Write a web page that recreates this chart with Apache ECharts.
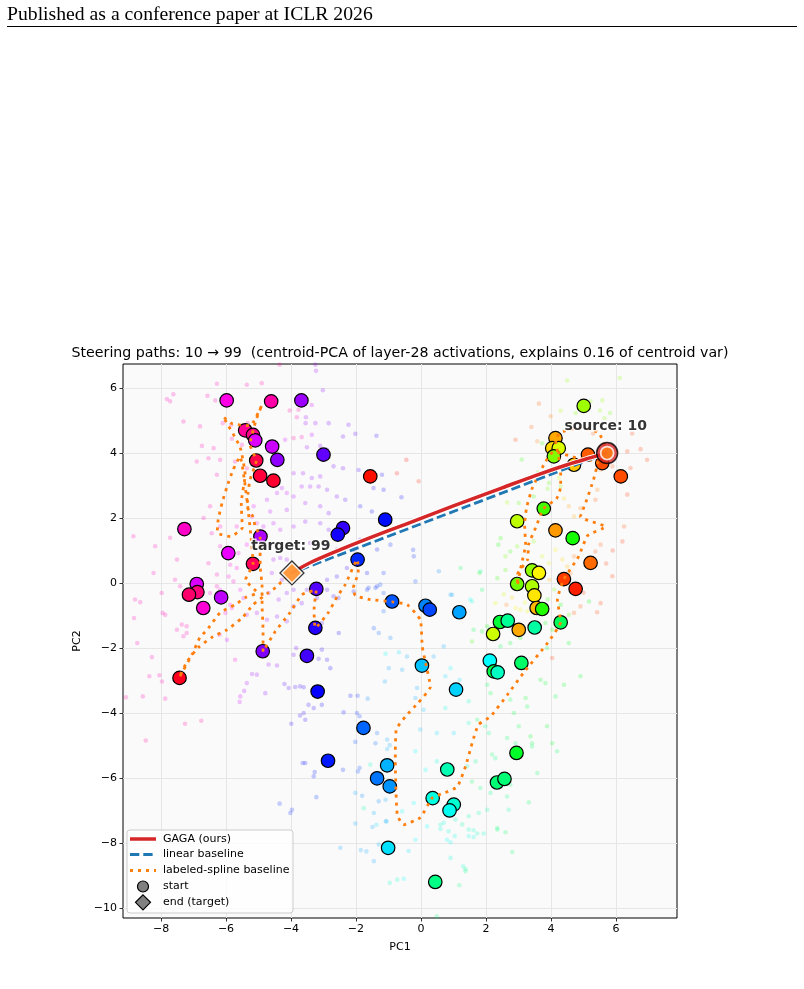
<!DOCTYPE html>
<html><head><meta charset="utf-8">
<script src="https://cdn.jsdelivr.net/npm/echarts@6/dist/echarts.min.js"></script>
<style>html,body{margin:0;padding:0;background:#fff}#c{width:804px;height:989px}</style>
</head><body><div id="c"></div>
<script>
// ---------------- data ----------------
const xTicks = [-8, -6, -4, -2, 0, 2, 4, 6];
const yTicks = [-10, -8, -6, -4, -2, 0, 2, 4, 6];
const sourcePoint = [5.73, 4.00];
const targetPoint = [-3.97, 0.31];

const gagaPath = [[5.73,4.00],[5.2,3.85],[4.5,3.64],[3.5,3.30],[2.5,2.93],[1.5,2.56],[0.5,2.18],[-0.5,1.80],[-1.5,1.42],[-2.5,1.02],[-3.4,0.63],[-3.97,0.31]];
const linearPath = [[5.73,4.00],[-3.97,0.31]];
const splinePath = [
 [5.73,4.00],[5.47,4.63],[4.85,4.78],[4.30,4.63],[4.14,4.41],[4.30,3.49],[4.30,2.96],[4.17,2.59],[3.77,2.29],[3.53,1.70],
 [3.31,1.18],[3.28,0.72],[2.97,0.26],[2.97,-0.08],[3.09,0.56],[3.22,1.18],[3.19,1.79],[3.25,2.32],[3.43,2.93],[3.83,3.73],
 [4.08,4.04],[4.76,3.86],[5.44,3.70],[5.31,3.18],[5.07,2.47],[4.91,2.04],[5.68,1.73],[5.13,1.46],[4.85,0.81],[4.39,0.10],
 [4.20,-0.51],[4.30,-1.19],[3.90,-1.84],[3.16,-2.76],[2.66,-3.44],[2.14,-4.11],[1.77,-4.36],[1.58,-4.91],[1.37,-5.65],[1.12,-6.27],
 [0.75,-6.45],[0.35,-6.61],[-0.02,-7.22],[-0.54,-7.44],[-0.73,-7.13],[-0.79,-5.44],[-0.76,-4.51],[-0.48,-4.11],[-0.08,-3.68],[0.29,-3.19],
 [0.14,-2.45],[0.04,-1.96],[-0.02,-1.13],[-0.42,-0.67],[-0.88,-0.58],[-1.56,-0.51],[-2.02,-0.39],[-2.08,-0.15],[-1.93,0.32],[-1.96,0.72],
 [-2.33,-0.05],[-2.58,-0.42],[-2.85,-0.91],[-3.25,-1.38],[-3.29,-0.82],[-3.22,-0.21],[-3.66,-0.36],[-4.03,-0.91],[-4.49,-1.50],[-4.86,-2.11],
 [-4.86,-1.44],[-4.89,-0.67],[-4.89,-0.11],[-4.95,0.56],[-4.95,1.43],[-5.10,1.73],[-5.17,2.04],[-5.35,2.35],[-5.32,2.78],[-5.26,3.18],
 [-5.07,3.76],[-5.26,4.26],[-5.07,5.03],[-4.89,5.49],[-5.26,4.84],[-5.81,4.90],[-6.09,5.12],[-5.57,4.19],[-5.41,3.33],[-5.53,2.47],
 [-5.50,1.70],[-5.87,1.43],[-6.27,1.55],[-6.24,1.95],[-6.12,2.47],[-5.97,2.96],[-5.78,3.49],[-5.57,3.89],[-5.17,0.59],[-5.40,0.10],
 [-5.04,-0.30],[-5.41,-0.45],[-5.72,-0.67],[-6.18,-0.91],[-6.58,-1.44],[-6.80,-1.67],[-7.04,-2.19],[-7.44,-2.91],[-7.20,-2.42],[-6.86,-1.99],
 [-6.40,-1.65],[-5.97,-1.44],[-5.50,-1.07],[-5.17,-0.67],[-4.70,-0.30],[-4.43,-0.11],[-4.24,0.10],[-3.97,0.31]
];

// class centroids: [PC1, PC2, class]
const centroids = [
 [-5.98,5.62,85],[-4.61,5.59,89],[-3.68,5.62,77],[-5.41,4.70,90],[-5.17,4.56,91],[-5.10,4.39,81],[-4.58,4.20,80],[-4.42,3.79,76],
 [-3.00,3.95,73],[-5.07,3.77,95],[-4.95,3.30,96],[-4.54,3.15,97],[-1.56,3.28,1],[-7.28,1.66,87],[-4.94,1.43,78],[-2.40,1.69,70],
 [-2.56,1.49,68],[-1.10,1.95,66],[-5.93,0.92,82],[-5.17,0.59,94],[-1.95,0.72,64],[-3.22,-0.18,72],[-6.90,-0.03,81],[-6.88,-0.28,92],
 [-7.14,-0.36,93],[-6.15,-0.44,79],[-6.70,-0.77,86],[-0.89,-0.57,61],[-3.25,-1.38,69],[-4.87,-2.10,75],[-3.51,-2.24,71],[-7.43,-2.92,98],
 [-3.18,-3.34,67],[-1.77,-4.46,60],[-2.86,-5.47,65],[-1.04,-5.61,55],[-1.35,-6.01,59],[-0.96,-6.26,57],[-1.01,-8.15,52],[0.44,-9.20,42],
 [0.14,-0.70,58],[0.27,-0.82,62],[1.18,-0.90,56],[2.43,-1.20,37],[2.67,-1.16,43],[3.01,-1.44,11],[3.50,-1.37,44],[4.30,-1.21,39],
 [2.22,-1.57,20],[2.12,-2.39,50],[2.24,-2.72,38],[2.36,-2.75,46],[3.09,-2.46,40],[0.03,-2.54,54],[1.08,-3.28,53],[2.94,-5.23,36],
 [0.81,-5.74,45],[2.34,-6.14,41],[2.57,-6.03,41],[0.36,-6.62,48],[1.01,-6.82,47],[0.88,-7.00,49],
 [3.42,-0.10,22],[3.49,-0.38,15],[3.56,-0.77,12],[3.73,-0.80,31],[4.40,0.12,4],[4.76,-0.18,2],[5.01,5.45,23],[4.14,4.46,11],
 [4.04,4.15,14],[4.24,4.15,19],[4.09,3.90,25],[5.14,3.95,6],[4.71,3.64,13],[5.58,3.69,5],[6.15,3.28,5],[3.78,2.29,29],
 [2.96,1.90,21],[4.14,1.62,10],[4.67,1.38,32],[5.22,0.62,7],[3.42,0.39,24],[3.63,0.31,16],[2.96,-0.03,26]
];

// individual activations: [PC1, PC2, class]
const dotsUpperLeft = [
 [-4.35,6.72,89],[-3.25,6.72,77],[-3.23,6.53,77],[-6.28,6.13,88],[-5.36,6.10,88],[-4.90,6.15,89],[-7.82,5.66,88],[-7.72,5.59,88],
 [-7.62,5.81,88],[-6.57,5.76,88],[-6.33,5.62,88],[-3.02,5.93,76],[-4.04,5.31,90],[-3.77,5.33,89],[-3.36,5.48,80],[-3.82,5.10,88],
 [-3.54,5.10,77],[-7.31,4.97,88],[-6.80,4.82,88],[-6.10,4.92,88],[-5.84,4.87,88],[-5.33,4.92,90],[-5.10,4.72,90],[-3.55,4.92,77],
 [-3.25,4.92,77],[-2.84,4.92,75],[-2.23,4.87,74],[-3.92,4.46,90],[-3.67,4.49,88],[-3.36,4.56,79],[-2.40,4.51,74],[-2.02,4.59,73],
 [-1.37,4.53,70],[-6.74,4.22,88],[-6.38,4.15,88],[-5.82,4.44,88],[-5.51,4.25,88],[-4.18,4.41,80],[-3.51,4.18,77],[-3.10,4.22,76],
 [-2.89,4.10,76],[-6.90,3.74,88],[-6.54,3.84,88],[-6.18,3.79,88],[-5.72,3.74,88],[-5.36,3.53,90],[-3.92,3.38,77],[-3.63,3.38,77],
 [-3.36,3.23,76],[-3.10,3.28,76],[-2.69,3.59,74],[-2.40,3.53,74],[-1.92,3.48,72],[-1.20,3.33,68],[-1.46,2.92,69],[-1.15,2.87,68],
 [-0.74,3.38,1],[-4.13,2.77,80],[-3.92,2.66,78],[-3.67,2.97,78],[-3.41,2.97,77],[-3.15,2.97,76],[-2.89,2.87,75],[-2.59,2.66,74],
 [-2.33,2.56,72],[-1.87,2.36,68],[-1.51,2.20,67],[-1.20,2.05,66],[-6.28,3.33,88],[-4.74,2.56,79],[-4.43,2.77,79],[-4.28,2.92,79],
 [-5.15,2.36,82],[-4.64,2.20,79],[-4.13,2.25,78],[-3.56,2.46,77],[-3.10,2.36,76],[-2.84,2.15,74],[-6.49,2.36,88],[-6.69,2.00,88],
 [-6.44,1.53,88],[-6.18,1.74,86],[-5.67,1.74,86],[-5.20,2.05,84],[-5.05,1.84,82],[-4.85,1.74,80],[-4.54,1.84,79],[-4.33,1.64,79],
 [-3.92,1.74,77],[-3.56,1.89,76],[-3.10,1.84,75],[-2.84,1.64,74],[-2.59,1.44,72],[-8.85,1.44,88],[-8.18,1.13,88],[-7.72,1.39,88],
 [-6.18,1.13,86],[-5.62,0.92,84],[-5.36,1.18,84],[-4.64,1.18,79],[-4.33,0.77,78],[-3.41,1.23,76],[-2.95,1.13,74],[-2.59,1.03,72],
 [-2.07,1.03,68],[-1.87,1.33,68],[-1.35,1.03,66],[-0.94,1.18,64],[-7.51,0.72,88],[-6.54,0.61,88],[-5.87,0.56,86],[-5.67,0.46,86],
 [-6.28,0.26,88],[-5.92,0.20,86],[-5.77,0.05,86],[-4.54,0.72,78],[-4.13,0.72,77],[-4.59,0.31,78],[-4.28,0.10,77],[-3.92,-0.21,75],
 [-3.51,-0.21,74],[-2.89,0.10,72],[-2.59,0.20,70],[-2.28,0.46,70],[-1.66,0.31,66],[-1.15,0.31,64],[-1.35,-0.10,64],[-8.23,0.31,88],
 [-7.57,0.10,88],[-7.41,-0.10,88],[-7.98,-0.31,88],[-6.49,-0.31,86],[-6.18,-0.21,84],[-5.56,-0.21,82],[-4.69,-0.31,78],[-4.38,-0.51,77],
 [-4.13,-0.31,76],[-3.20,-0.46,72],[-2.69,-0.41,70],[-2.07,-0.26,68],[-1.66,-0.21,64],[-1.15,-0.31,62],[-8.80,-0.51,88],[-8.64,-0.59,88]
];
const dotsLowerLeft = [
 [-8.83,-1.08,88],[-7.95,-0.92,88],[-7.87,-0.98,88],[-7.36,-1.28,88],[-7.21,-1.33,88],[-7.51,-1.44,88],[-7.31,-1.64,88],[-7.21,-1.54,88],
 [-8.73,-1.85,88],[-8.28,-2.28,88],[-6.20,-1.59,86],[-5.97,-1.75,80],[-6.28,-0.10,88],[-5.82,-0.77,86],[-6.02,-0.92,86],[-5.87,-0.67,84],
 [-5.46,-0.46,80],[-5.05,-0.92,78],[-5.36,-0.98,79],[-4.74,-1.13,77],[-4.43,-1.03,76],[-4.13,-1.18,76],[-3.92,-0.72,75],[-3.67,-0.62,74],
 [-2.89,-0.21,72],[-2.54,-0.46,70],[-3.05,-1.23,72],[-2.53,-1.54,68],[-1.61,-0.15,64],[-1.40,-0.15,63],[-1.25,-0.05,62],[-1.15,-0.87,60],
 [-1.45,-1.39,62],[-1.30,-1.54,60],[-0.94,-1.69,58],[-3.84,-2.00,74],[-3.92,-2.21,74],[-3.05,-2.05,70],[-3.15,-2.33,70],[-2.89,-2.36,69],
 [-2.79,-2.62,68],[-4.43,-2.54,76],[-4.69,-2.51,77],[-5.20,-2.80,77],[-5.05,-2.82,77],[-5.36,-3.08,78],[-4.79,-3.39,76],[-5.44,-3.32,78],
 [-5.56,-3.49,80],[-5.58,-3.66,80],[-5.72,-2.36,86],[-8.36,-2.87,88],[-8.05,-2.84,88],[-7.97,-3.03,88],[-9.08,-3.52,90],[-8.56,-3.49,88],
 [-7.87,-3.56,88],[-7.26,-4.33,90],[-6.76,-4.24,90],[-8.47,-4.85,90],[-4.20,-3.11,72],[-4.07,-3.23,72],[-3.87,-3.20,71],[-3.72,-3.18,71],
 [-3.61,-3.21,70],[-3.46,-3.75,70],[-3.05,-3.75,68],[-3.30,-3.85,69],[-3.72,-4.08,70],[-3.61,-4.00,70],[-3.56,-4.21,69],[-3.99,-4.33,70],
 [-2.38,-3.98,66],[-2.17,-3.47,66],[-1.95,-3.47,64],[-1.64,-3.56,58],[-1.97,-4.00,64],[-1.89,-4.10,63],[-1.35,-4.62,60],[-1.40,-4.93,60],
 [-2.02,-4.89,62],[-1.04,-4.82,56],[-0.96,-4.99,56],[-1.04,-5.11,55],[-1.56,-5.59,46],[-3.64,-5.54,66],[-3.56,-5.54,66],[-3.27,-5.82,65],
 [-3.30,-5.95,65],[-2.40,-5.75,64],[-1.89,-5.69,62],[-1.94,-5.80,62],[-2.02,-6.46,56],[-1.81,-6.55,58],[-1.30,-6.72,58],[-1.09,-6.67,55],
 [-1.76,-6.93,44],[-1.45,-7.08,56],[-1.06,-7.34,54],[-1.37,-7.44,52],[-4.35,-6.79,64],[-3.97,-6.98,64],[-4.02,-7.08,64],[-3.22,-6.59,63],
 [-1.11,-3.03,56],[-0.99,-2.62,56],[-1.09,-2.18,50],[-0.68,-2.13,52],[-2.02,-7.40,56],[-1.49,-7.51,56],[-1.08,-7.33,56],[-1.30,-8.05,55],
 [-2.48,-8.15,56],[-1.85,-8.22,56],[-1.68,-8.26,56],[-1.45,-8.56,56],[-0.96,-9.23,46],[-0.73,-9.13,46]
];
const dotsUpperRight = [
 [6.12,6.31,24],[4.50,6.23,24],[4.76,5.23,26],[5.22,5.59,24],[5.58,5.62,24],[5.51,5.31,24],[5.82,5.23,26],[5.65,5.07,24],
 [3.63,5.52,6],[3.99,5.13,8],[2.91,4.41,4],[3.58,4.36,8],[3.73,4.30,30],[-0.45,3.79,1],[-0.07,3.13,2],[-0.60,2.64,66],
 [6.35,4.05,4],[6.76,4.12,4],[6.96,3.79,4],[6.45,3.54,4],[5.89,3.59,6],[5.53,3.49,8],[6.35,2.72,3],[6.25,1.74,5],
 [6.20,1.28,4],[5.89,0.21,3],[5.43,2.87,8],[5.37,2.56,6],[4.55,2.36,10],[4.71,2.05,12],[4.91,2.30,8],[4.24,3.23,20],
 [4.30,2.97,24],[3.94,3.08,28],[3.47,2.66,30],[3.01,2.46,28],[2.65,2.48,22],[2.45,1.38,30],[2.60,0.82,26],[2.38,1.18,32],
 [2.35,0.15,30],[1.22,0.46,40],[0.55,0.36,58],[-0.22,0.82,64],[-0.24,1.02,64],[0.96,-0.36,56],[1.52,-0.51,50],[1.83,0.36,44],
 [1.80,0.31,36],[4.14,1.02,16],[4.35,0.72,14],[4.50,0.51,12],[4.71,0.82,8],[5.37,0.97,5],[5.53,1.18,6],[2.96,1.13,26],
 [2.75,0.97,30],[3.73,0.82,20],[3.94,0.61,18],[3.47,1.28,24],[2.55,-0.35,20],[2.80,-0.45,14],[3.20,-0.60,18],[3.90,-0.50,30],
 [4.10,-0.20,26],[2.60,0.40,28],[3.95,0.10,12],[4.60,0.30,8],[5.00,-0.30,4],[5.70,0.60,4],[5.90,1.00,3],[4.40,2.60,14],
 [3.90,2.90,26],[3.60,3.40,28],[3.10,3.80,30],[4.60,4.90,20],[4.30,5.30,22],[3.40,4.80,6],[5.30,4.60,6],[6.50,4.60,4]
];
const dotsLowerRight = [
 [-0.17,0.05,62],[0.91,-0.36,56],[1.57,-0.57,48],[1.88,-0.21,40],[2.29,-0.62,18],[2.63,-0.67,8],[2.91,-0.77,16],[3.06,-0.82,16],
 [3.27,-0.87,18],[4.30,-0.67,34],[4.91,-0.72,6],[5.17,-0.57,34],[5.53,-0.62,4],[5.42,-0.90,4],[4.55,-0.98,28],[4.71,-0.92,6],
 [3.83,-1.23,34],[4.14,-1.28,36],[4.04,-1.44,30],[1.62,-1.44,38],[1.88,-1.49,36],[2.04,-1.33,34],[2.75,-1.85,36],[3.06,-1.69,34],
 [2.45,-1.95,38],[1.57,-1.80,30],[3.88,-2.00,38],[4.04,-2.31,4],[0.70,-1.95,56],[0.39,-2.26,56],[-0.43,-2.26,56],[-0.58,-2.67,56],
 [0.91,-2.62,50],[0.75,-2.87,52],[1.19,-2.98,52],[-0.12,-3.23,56],[-0.17,-3.54,56],[0.08,-3.90,54],[2.04,-3.13,40],[2.14,-3.39,38],
 [2.75,-3.59,38],[3.22,-3.54,36],[3.27,-3.80,38],[3.68,-2.98,36],[3.83,-3.08,36],[4.14,-3.49,38],[4.40,-3.13,36],[4.55,-1.85,36],
 [4.91,-2.87,36],[1.47,-3.64,46],[0.75,-3.85,48],[1.01,-4.62,52],[1.47,-4.31,46],[1.73,-4.21,40],[1.98,-4.41,42],[2.86,-4.00,38],
 [3.01,-4.41,38],[3.37,-4.72,36],[3.88,-4.41,36],[4.04,-4.93,36],[2.09,-4.62,42],[2.65,-4.77,40],[2.91,-4.93,40],[0.49,-4.62,52],
 [-0.02,-4.51,54],[-0.17,-5.18,50],[0.49,-5.49,48],[0.14,-5.75,50],[1.42,-5.64,44],[1.68,-5.49,42],[2.19,-5.28,40],[2.29,-5.39,42],
 [3.42,-4.93,38],[3.58,-5.85,40],[3.42,-5.03,40],[4.19,-5.18,40],[1.57,-6.11,40],[1.83,-6.31,42],[2.75,-6.21,40],[2.14,-6.46,42],
 [2.65,-6.57,42],[2.70,-6.98,44],[3.32,-6.75,40],[1.47,-7.18,44],[1.78,-7.08,44],[2.04,-6.98,44],[-0.22,-6.77,50],[-0.58,-7.03,50],
 [0.60,-7.44,46],[2.35,-7.54,42]
];
const dotsBottom = [
 [0.19,-7.49,50],[0.60,-7.57,48],[0.85,-7.64,48],[0.70,-7.38,48],[1.27,-7.43,44],[1.06,-7.28,46],[1.47,-7.59,46],[1.62,-7.61,46],
 [1.47,-7.79,48],[1.62,-7.82,48],[1.73,-7.71,46],[1.93,-7.71,46],[2.35,-7.59,40],[2.60,-7.67,40],[0.80,-7.90,50],[0.91,-7.98,50],
 [1.04,-7.79,48],[-0.17,-7.90,50],[-0.38,-8.25,52],[-0.53,-9.10,50],[0.91,-8.46,48],[2.81,-8.28,40],[1.30,-8.72,46],[1.37,-8.80,44],
 [1.37,-8.87,42],[1.18,-9.30,42],[0.49,-10.26,42]
];

const legendLabels = ['GAGA (ours)', 'linear baseline', 'labeled-spline baseline', 'start', 'end (target)'];

// ---------------- helpers ----------------
function hsvColor(cls) {
  const h = ((cls / 100) % 1) * 6;
  const i = Math.floor(h), f = h - i;
  const q = 1 - f, t = f;
  const rgb = [[1,t,0],[q,1,0],[0,1,t],[0,q,1],[t,0,1],[1,0,q]][i % 6];
  return 'rgb(' + rgb.map(v => Math.round(v * 255)).join(',') + ')';
}
const FONT = 'DejaVu Sans';
const RED = '#d62728', BLUE = '#1f77b4', ORANGE = '#ff7f0e';
const allDots = [].concat(dotsUpperLeft, dotsLowerLeft, dotsUpperRight, dotsLowerRight, dotsBottom);
const minus = v => String(v).replace('-', '\u2212');

const chart = echarts.init(document.getElementById('c'), null, {renderer: 'canvas'});

const legendX = 127, legendY = 830, rowY = [839, 854.5, 870.5, 886.5, 902.3];
const graphic = [
  {type:'text', x:7, y:14.5, style:{text:'Published as a conference paper at ICLR 2026', fontSize:19.7, fontFamily:'Liberation Serif', fill:'#000', verticalAlign:'middle'}},
  {type:'line', shape:{x1:7, y1:26.5, x2:797, y2:26.5}, style:{stroke:'#000', lineWidth:1}},
  {type:'rect', z:100, shape:{x:legendX, y:legendY, width:166, height:83, r:3}, style:{fill:'rgba(255,255,255,0.8)', stroke:'#cccccc', lineWidth:1}},
  {type:'line', z:101, shape:{x1:130, y1:rowY[0], x2:156, y2:rowY[0]}, style:{stroke:RED, lineWidth:3.5}},
  {type:'line', z:101, shape:{x1:130, y1:rowY[1], x2:156, y2:rowY[1]}, style:{stroke:BLUE, lineWidth:2.8, lineDash:[9.3,4]}},
  {type:'line', z:101, shape:{x1:130, y1:rowY[2], x2:156, y2:rowY[2]}, style:{stroke:ORANGE, lineWidth:2.8, lineDash:[3,5]}},
  {type:'circle', z:101, shape:{cx:143, cy:rowY[3], r:5.5}, style:{fill:'#808080', stroke:'#000', lineWidth:1.2}},
  {type:'polygon', z:101, shape:{points:[[143,rowY[4]-7.5],[150.5,rowY[4]],[143,rowY[4]+7.5],[135.5,rowY[4]]]}, style:{fill:'#808080', stroke:'#000', lineWidth:1.2}}
];
legendLabels.forEach((t, i) => graphic.push({type:'text', z:101, x:163, y:rowY[i], style:{text:t, fontSize:11, fontFamily:FONT, fill:'#000', verticalAlign:'middle'}}));

const axisCommon = {
  type:'value',
  axisLine:{show:false, onZero:false},
  splitLine:{show:true, lineStyle:{color:'#e6e6e6', width:1}},
  nameLocation:'middle',
  nameTextStyle:{fontSize:11, fontFamily:FONT, color:'#000'}
};
const tickStyle = {show:true, inside:false, length:3.5, lineStyle:{color:'#000', width:0.8}};

const option = {
  animation:false,
  backgroundColor:'#fff',
  title:{text:'Steering paths: 10 \u2192 99  (centroid-PCA of layer-28 activations, explains 0.16 of centroid var)',
         left:400, textAlign:'center', top:346, padding:0,
         textStyle:{fontSize:14.2, fontWeight:'normal', fontFamily:FONT, color:'#000'}},
  grid:{left:123, top:364, width:554, height:554, show:true, backgroundColor:'#fafafa', borderColor:'#000', borderWidth:1, containLabel:false, outerBoundsMode:'none'},
  xAxis:Object.assign({}, axisCommon, {
    min:-9.17, max:7.88, name:'PC1', nameGap:24, position:'bottom',
    axisTick:Object.assign({}, tickStyle, {customValues:xTicks}),
    axisLabel:{customValues:xTicks, formatter:minus, margin:6, fontSize:11, fontFamily:FONT, color:'#000'}
  }),
  yAxis:Object.assign({}, axisCommon, {
    min:-10.31, max:6.74, name:'PC2', nameGap:33, position:'left',
    axisTick:Object.assign({}, tickStyle, {customValues:yTicks}),
    axisLabel:{customValues:yTicks, formatter:minus, margin:6, fontSize:11, fontFamily:FONT, color:'#000'}
  }),
  graphic:graphic,
  series:[
    {type:'scatter', name:'activations', data:allDots, symbolSize:4.6, z:1, silent:true,
     itemStyle:{color:p => hsvColor(p.value[2]), opacity:0.22}},
    {type:'scatter', name:'centroids', data:centroids, symbolSize:13.5, z:2, silent:true,
     itemStyle:{color:p => hsvColor(p.value[2]), borderColor:'#000', borderWidth:1.2, opacity:1}},
    {type:'line', name:legendLabels[2], data:splinePath, z:3, symbol:'none', smooth:0.15, silent:true,
     lineStyle:{color:ORANGE, width:2.8, type:[3,5], cap:'butt'}},
    {type:'line', name:legendLabels[1], data:linearPath, z:4, symbol:'none', silent:true,
     lineStyle:{color:BLUE, width:2.8, type:[9.3,4]}},
    {type:'line', name:'gaga-halo', data:gagaPath, z:5, symbol:'none', smooth:0.3, silent:true,
     lineStyle:{color:'#fff', width:5.5}},
    {type:'line', name:legendLabels[0], data:gagaPath, z:6, symbol:'none', smooth:0.3, silent:true,
     lineStyle:{color:RED, width:3.5}},
    {type:'scatter', name:legendLabels[3], data:[sourcePoint], z:7, symbol:'circle', symbolSize:21, silent:true,
     itemStyle:{color:RED, borderColor:'#000', borderWidth:1.5},
     label:{show:true, formatter:'source: 10', position:[-31.5,-15], align:'left', verticalAlign:'middle',
            fontSize:14, fontWeight:'bold', fontFamily:FONT, color:'#000', textBorderColor:'#fff', textBorderWidth:3}},
    {type:'scatter', name:'start-spline', data:[sourcePoint], z:8, symbol:'circle', symbolSize:13, silent:true,
     itemStyle:{color:ORANGE, borderColor:'#fff', borderWidth:1.8}},
    {type:'scatter', name:legendLabels[4], data:[targetPoint], z:7, symbol:'diamond', symbolSize:24, silent:true,
     itemStyle:{color:'#fff', borderColor:'#000', borderWidth:1.3},
     label:{show:true, formatter:'target: 99', position:[-28,-14], align:'left', verticalAlign:'middle',
            fontSize:14, fontWeight:'bold', fontFamily:FONT, color:'#000', textBorderColor:'#fff', textBorderWidth:3}},
    {type:'scatter', name:'end-spline', data:[targetPoint], z:8, symbol:'diamond', symbolSize:19, silent:true,
     itemStyle:{color:ORANGE, borderColor:'#fff', borderWidth:1}}
  ]
};
chart.setOption(option);
</script>
</body></html>
